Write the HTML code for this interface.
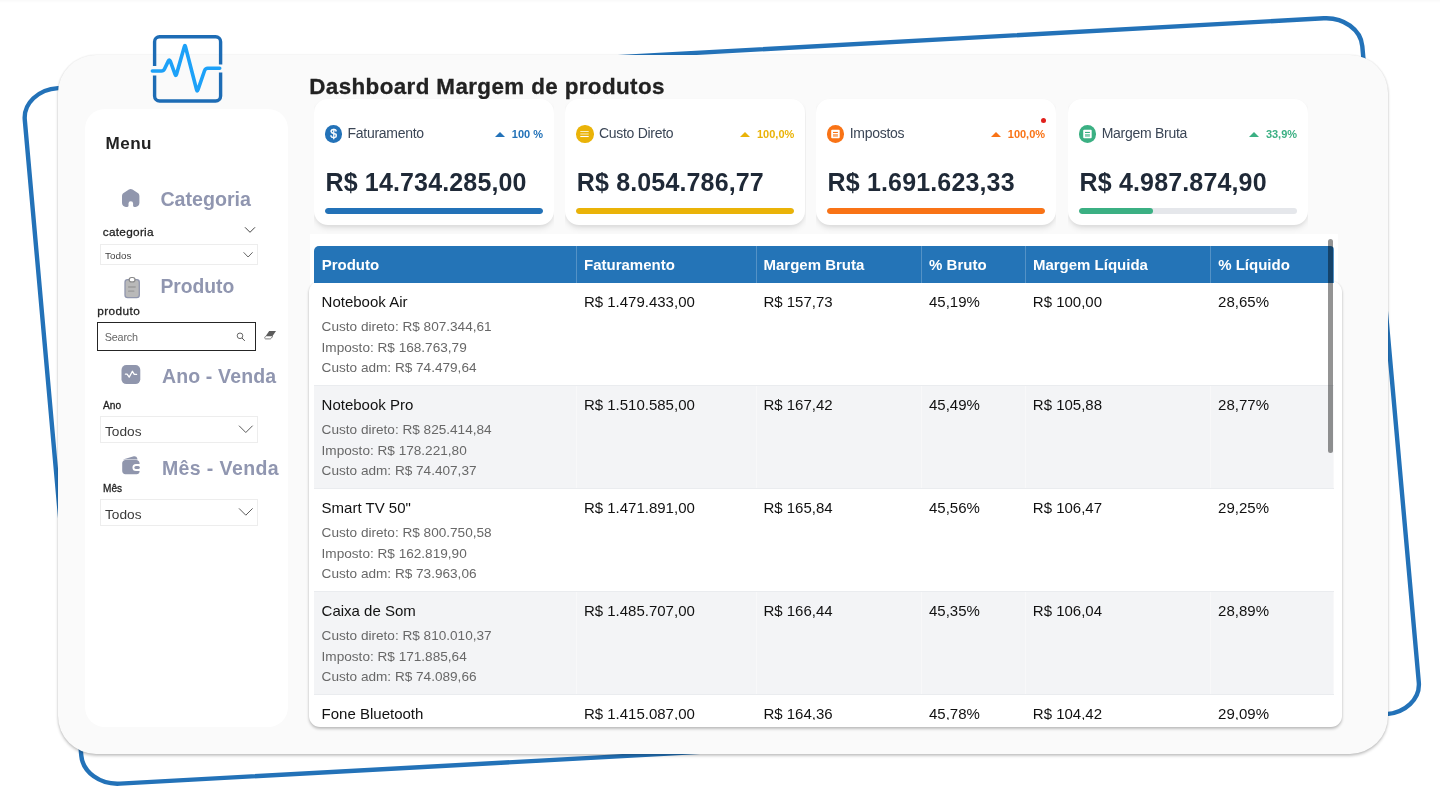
<!DOCTYPE html>
<html lang="pt-BR">
<head>
<meta charset="utf-8">
<title>Dashboard Margem de produtos</title>
<style>
*{box-sizing:border-box;margin:0;padding:0}
html,body{width:1440px;height:802px;overflow:hidden;background:#fff}
body{position:relative;font-family:"Liberation Sans",Arial,sans-serif;color:#111}
.abs{position:absolute}
#topfade{left:0;top:0;width:1440px;height:3px;background:linear-gradient(#f9f9f9,#fff)}
#frame{left:0;top:0;width:1440px;height:802px}
#panel{left:58.2px;top:55px;width:1329.8px;height:698.6px;background:#fafafa;border-radius:38px;box-shadow:0 2px 3px rgba(0,0,0,.22),0 0 2px rgba(0,0,0,.11)}
#logo{left:145px;top:30px;width:85px;height:80px}
#side{left:85px;top:109px;width:203px;height:618px;background:#fff;border-radius:20px}
.t{position:absolute;white-space:nowrap;line-height:1}
.h{font-weight:bold;font-size:19.5px;color:#9096b0}
.lab{font-weight:normal;color:#222;-webkit-text-stroke:.28px #222}
.dd{position:absolute;border:1px solid #ededed;background:#fff}
#title{left:309.3px;top:76.4px;font-size:22.4px;letter-spacing:.39px;font-weight:bold;color:#222;-webkit-text-stroke:.3px #222}
.kpiw{position:absolute;top:89px;width:240.8px;height:144.7px;overflow:hidden}
.kpi{position:absolute;left:.4px;top:10px;width:240px;height:125.5px;background:#fff;border-radius:14px;box-shadow:0 4px 6px -1px rgba(0,0,0,.105),0 2px 4px -1px rgba(0,0,0,.06)}
.kpi .ic{position:absolute;left:10.8px;top:26px;width:17.5px;height:17.5px;border-radius:50%}
.kpi .ic svg{position:absolute;left:0;top:0;width:17.5px;height:17.5px}
.kpi .nm{position:absolute;left:33.6px;top:27px;font-size:14px;letter-spacing:-.28px;color:#3b4656;line-height:1;white-space:nowrap}
.kpi .pc{position:absolute;right:11px;top:30px;font-size:11px;font-weight:bold;line-height:1;white-space:nowrap}
.kpi .tri{position:absolute;top:33px;width:0;height:0;border-left:5.2px solid transparent;border-right:5.2px solid transparent;border-bottom:5.4px solid;margin-right:.4px}
.kpi .val{position:absolute;left:11.5px;top:71px;font-size:25px;font-weight:bold;letter-spacing:.15px;color:#1f2937;line-height:1;white-space:nowrap}
.kpi .trk{position:absolute;left:11px;top:109px;width:218px;height:5.6px;border-radius:3px;background:#e5e7eb;overflow:hidden}
.kpi .trk i{position:absolute;left:0;top:0;height:100%;border-radius:3px}
#tbA{left:310px;top:233.7px;width:1027.6px;height:60px;background:#fff}
#tbB{left:308.8px;top:281px;width:1033.4px;height:446px;background:#fff;border-radius:11px;box-shadow:0 2px 3px rgba(0,0,0,.24),0 0 2px rgba(0,0,0,.08)}
#tbl{left:314px;top:246px;width:1020px;height:473.5px;overflow:hidden;border-radius:5px 4px 0 10px}
#thead{position:absolute;left:0;top:0;width:1020px;height:37px;background:#2474b7}
#thead div{position:absolute;top:0;height:37px;padding:10.8px 0 0 7.7px;font-size:15px;font-weight:bold;color:#fff;line-height:1;border-right:1px solid rgba(255,255,255,.22);white-space:nowrap}
.row{position:absolute;left:0;width:1020px;height:103px;border-bottom:1px solid #eaecef;background:#fff}
.row.alt{background:#f3f4f6}
.row .c{position:absolute;top:0;height:102px;padding:10px 0 0 7.6px;font-size:15px;line-height:17px;border-right:1px solid rgba(255,255,255,.4);white-space:nowrap;color:#111}
.row .sub{margin-top:7.3px;font-size:13.6px;line-height:20.3px;color:#686868}
#sb{left:1328.2px;top:239.3px;width:4.5px;height:214px;border-radius:3px;background:rgba(0,0,0,.42)}
</style>
</head>
<body>
<div id="topfade" class="abs"></div>

<!-- blue tilted outline -->
<svg id="frame" class="abs" viewBox="0 0 1440 802">
  <path d="M58.0 88.1 L1323.8 18.3 C1343.6 17.2 1360.9 29.7 1362.3 46.2 L1418.8 682.4 C1420.2 699.0 1405.3 713.2 1385.5 714.3 L119.9 783.6 C100.1 784.7 82.8 772.2 81.3 755.7 L24.8 120.0 C23.3 103.5 38.2 89.2 58.0 88.1 Z" fill="none" stroke="#2372b8" stroke-width="4.4" stroke-linejoin="round"/>
</svg>

<div id="panel" class="abs"></div>

<!-- logo -->
<svg id="logo" class="abs" viewBox="145 30 85 80">
  <path d="M154.6 66 V41.8 a5 5 0 0 1 5 -5 H215.6 a5 5 0 0 1 5 5 V64.5 M220.6 72.5 V96 a5 5 0 0 1 -5 5 H159.6 a5 5 0 0 1 -5 -5 V75.5" fill="none" stroke="#1d6cb5" stroke-width="3.4"/>
  <path d="M152.4 71.0 L161.4 71.0 Q163.6 71.0 164.5 69.0 L168.3 61.1 Q169.4 58.8 170.3 61.2 L175.1 74.3 Q175.9 76.6 176.5 74.3 L184.4 46.5 Q184.9 44.6 185.4 46.5 L196.6 89.7 Q197.2 92.0 198.0 89.7 L204.6 70.5 Q205.4 68.2 207.8 68.2 L219.7 68.2" fill="none" stroke="#1da1f8" stroke-width="3.6" stroke-linecap="round" stroke-linejoin="round"/>
</svg>

<!-- sidebar -->
<div id="side" class="abs"></div>
<div id="sidecontent">
<div class="t" style="left:105.5px;top:134.9px;font-size:17.1px;letter-spacing:.45px;font-weight:bold;color:#222">Menu</div>

<!-- Categoria -->
<svg class="abs" style="left:120px;top:186px;width:24px;height:24px" viewBox="120 186 24 24">
  <path d="M122 196.2 c0 -1.3 .6 -2.4 1.6 -3.1 l5.3 -3.6 c1.1 -.75 2.5 -.75 3.6 0 l5.3 3.6 c1 .7 1.6 1.8 1.6 3.1 v6.9 c0 2.1 -1.7 3.8 -3.8 3.8 h-1.3 c-.7 0 -1.2 -.5 -1.2 -1.2 v-2.2 a2.3 2.3 0 0 0 -4.6 0 v2.2 c0 .7 -.5 1.2 -1.2 1.2 h-1.5 c-2.1 0 -3.8 -1.7 -3.8 -3.8 z" fill="#9096ad"/>
</svg>
<div class="t h" style="left:160.4px;top:190px;font-size:19.65px">Categoria</div>
<div class="t lab" style="left:102.8px;top:226.6px;font-size:11.8px;letter-spacing:.28px">categoria</div>
<svg class="abs" style="left:243px;top:225px;width:14px;height:10px" viewBox="243 225 14 10"><path d="M245 227.3 l5 5 l5 -5" fill="none" stroke="#444" stroke-width="1"/></svg>
<div class="dd" style="left:100.2px;top:243.6px;width:157.8px;height:21.2px"></div>
<div class="t" style="left:105px;top:250.8px;font-size:9.9px;color:#444">Todos</div>
<svg class="abs" style="left:241px;top:250px;width:14px;height:10px" viewBox="241 250 14 10"><path d="M243.6 252.3 l4.500 4.700 l4.500 -4.700" fill="none" stroke="#555" stroke-width=".9"/></svg>

<!-- Produto -->
<svg class="abs" style="left:120px;top:274px;width:24px;height:28px" viewBox="120 274 24 28">
  <rect x="125" y="279.6" width="14.3" height="18" rx="2.6" fill="#b9b9b9" stroke="#9096ad" stroke-width="1.3"/>
  <rect x="129.2" y="277.5" width="5.8" height="4.4" rx="2.2" fill="#fff" stroke="#8a8a8a" stroke-width="1.2"/>
  <path d="M128.6 287 h6.6 M128.6 291.2 h5.2" stroke="#9a9a9a" stroke-width="1.3" stroke-linecap="round"/>
</svg>
<div class="t h" style="left:160.4px;top:277.3px;font-size:19.3px">Produto</div>
<div class="t lab" style="left:97.3px;top:306.3px;font-size:11.8px;letter-spacing:.4px">produto</div>
<div class="abs" style="left:96.7px;top:322px;width:159.6px;height:29px;border:1.1px solid #252525;background:#fff"></div>
<div class="t" style="left:104.8px;top:332.4px;font-size:10.8px;letter-spacing:-.2px;color:#666">Search</div>
<svg class="abs" style="left:234px;top:330px;width:14px;height:14px" viewBox="234 330 14 14"><circle cx="240" cy="335.8" r="2.8" fill="none" stroke="#555" stroke-width=".9"/><path d="M242 338 l2.8 2.9" stroke="#555" stroke-width="1"/></svg>
<svg class="abs" style="left:263px;top:328px;width:16px;height:14px" viewBox="263 328 16 14"><path d="M269.2 331 h6.8 l-3.6 5.2 h-6.8 z" fill="#5c5c5c"/><path d="M265.6 336.2 l-.7 1.1 c-.5 .8 0 1.6 .9 1.6 h4 c.8 0 1.300 -.3 1.700 -.9 l1.200 -1.800" fill="none" stroke="#5c5c5c" stroke-width=".8"/></svg>

<!-- Ano -->
<svg class="abs" style="left:119px;top:363px;width:24px;height:24px" viewBox="119 363 24 24">
  <rect x="121.5" y="365.1" width="18.8" height="19" rx="4.8" fill="#9096ad"/>
  <path d="M125.4 374.2 h1.700 l2.100 2.900 l3.200 -5.800 l1.900 3.100 h2.300" fill="none" stroke="#fff" stroke-width="1.3" stroke-linecap="round" stroke-linejoin="round"/>
</svg>
<div class="t h" style="left:161.9px;top:367.1px;letter-spacing:.16px">Ano - Venda</div>
<div class="t lab" style="left:103px;top:401.2px;font-size:10.2px">Ano</div>
<div class="dd" style="left:100px;top:416px;width:158px;height:26.6px"></div>
<div class="t" style="left:105px;top:424.9px;font-size:13.7px;color:#3a3a3a">Todos</div>
<svg class="abs" style="left:237px;top:423px;width:18px;height:12px" viewBox="237 423 18 12"><path d="M239 425.700 l6.800 6.800 l6.800 -6.800" fill="none" stroke="#505050" stroke-width=".95"/></svg>

<!-- Mês -->
<svg class="abs" style="left:119px;top:454px;width:24px;height:24px" viewBox="119 454 24 24">
  <path d="M122.900 459.400 l10.900 -3.100 c1.500 -.45 3 .4 3.400 1.900 l.3 1.200 z" fill="#9096ad"/>
  <path d="M122.2 463.200 c0 -1.800 1.400 -3.200 3.200 -3.200 h10.800 c1.900 0 3.400 1.500 3.400 3.400 v.5 h-3.600 a3.550 3.550 0 0 0 0 7.100 h3.600 v.2 c0 1.700 -1.300 3 -3 3 h-11.200 c-1.800 0 -3.200 -1.400 -3.200 -3.200 z" fill="#9096ad"/>
  <rect x="134.4" y="465.900" width="5.4" height="3.100" rx="1.500" fill="#9096ad"/>
</svg>
<div class="t h" style="left:161.900px;top:459.300px;letter-spacing:.4px">Mês - Venda</div>
<div class="t lab" style="left:103px;top:484.100px;font-size:10.1px">Mês</div>
<div class="dd" style="left:100px;top:499.200px;width:158px;height:26.900px"></div>
<div class="t" style="left:105px;top:507.900px;font-size:13.7px;color:#3a3a3a">Todos</div>
<svg class="abs" style="left:237px;top:506px;width:18px;height:12px" viewBox="237 506 18 12"><path d="M239 508.400 l6.800 6.800 l6.800 -6.800" fill="none" stroke="#505050" stroke-width=".95"/></svg>
</div>

<!-- title -->
<div id="title" class="t">Dashboard Margem de produtos</div>

<!-- KPI cards -->
<div id="kpis">
<div class="kpiw" style="left:313.6px"><div class="kpi">
  <div class="ic" style="background:#2372b8"><svg viewBox="0 0 17.5 17.5"><text x="8.75" y="13.1" text-anchor="middle" font-family="Liberation Sans,Arial,sans-serif" font-size="12.2" fill="#fff" stroke="#fff" stroke-width=".35">$</text></svg></div>
  <div class="nm">Faturamento</div>
  <div class="tri" style="right:48.5px;border-bottom-color:#2372b8"></div>
  <div class="pc" style="color:#2372b8">100 %</div>
  <div class="val">R$ 14.734.285,00</div>
  <div class="trk"><i style="width:100%;background:#2372b8"></i></div>
</div></div>
<div class="kpiw" style="left:564.9px"><div class="kpi">
  <div class="ic" style="background:#eab308"><svg viewBox="0 0 17.5 17.5"><path d="M4.300 6.500 h8.400 M4.300 9 h8.400" stroke="#fff" stroke-width="1.100" opacity=".75"/><path d="M4.300 11.500 h8.400" stroke="#fff" stroke-width="1.100"/></svg></div>
  <div class="nm">Custo Direto</div>
  <div class="tri" style="right:54.8px;border-bottom-color:#eab308"></div>
  <div class="pc" style="color:#eab308">100,0%</div>
  <div class="val">R$ 8.054.786,77</div>
  <div class="trk"><i style="width:100%;background:#eab308"></i></div>
</div></div>
<div class="kpiw" style="left:815.7px"><div class="kpi">
  <div class="ic" style="background:#f97316"><svg viewBox="0 0 17.5 17.5"><rect x="4.200" y="4.800" width="8.500" height="8.400" rx=".9" fill="#fff"/><rect x="6" y="6.900" width="4.900" height="1.100" fill="#f97316"/><rect x="6" y="9" width="4.900" height="2.800" fill="#f97316" opacity=".6"/></svg></div>
  <div class="nm">Impostos</div>
  <div class="tri" style="right:54.8px;border-bottom-color:#f97316"></div>
  <div class="pc" style="color:#f97316">100,0%</div>
  <div style="position:absolute;left:224.700px;top:18.600px;width:5px;height:5px;border-radius:50%;background:#e0201c"></div>
  <div class="val">R$ 1.691.623,33</div>
  <div class="trk"><i style="width:100%;background:#f97316"></i></div>
</div></div>
<div class="kpiw" style="left:1067.7px"><div class="kpi">
  <div class="ic" style="background:#3bb083"><svg viewBox="0 0 17.5 17.5"><rect x="4.200" y="4.800" width="8.500" height="8.400" rx=".9" fill="#fff"/><rect x="6" y="6.900" width="4.900" height="1.100" fill="#3bb083"/><rect x="6" y="9" width="4.900" height="2.800" fill="#3bb083" opacity=".6"/></svg></div>
  <div class="nm">Margem Bruta</div>
  <div class="tri" style="right:49px;border-bottom-color:#3bb083"></div>
  <div class="pc" style="color:#3bb083">33,9%</div>
  <div class="val">R$ 4.987.874,90</div>
  <div class="trk"><i style="width:34%;background:#3bb083"></i></div>
</div></div>
</div>

<!-- table -->
<div id="tbA" class="abs"></div>
<div id="tbB" class="abs"></div>
<div id="tbl" class="abs">
<div id="thead">
  <div style="left:0px;width:263.1px">Produto</div>
  <div style="left:263.1px;width:179.5px;padding-left:6.9px">Faturamento</div>
  <div style="left:442.6px;width:165.6px;padding-left:6.9px">Margem Bruta</div>
  <div style="left:608.2px;width:103.8px;padding-left:6.9px">% Bruto</div>
  <div style="left:712.0px;width:185.3px;padding-left:6.9px">Margem Líquida</div>
  <div style="left:897.3px;width:122.7px;padding-left:6.9px">% Líquido</div>
</div>
<div class="row" style="top:37px">
  <div class="c" style="left:0;width:263.1px">Notebook Air<div class="sub">Custo direto: R$ 807.344,61<br>Imposto: R$ 168.763,79<br>Custo adm: R$ 74.479,64</div></div>
  <div class="c" style="left:263.1px;width:179.5px;padding-left:6.8px">R$ 1.479.433,00</div>
  <div class="c" style="left:442.6px;width:165.6px;padding-left:6.8px">R$ 157,73</div>
  <div class="c" style="left:608.2px;width:103.8px;padding-left:6.8px">45,19%</div>
  <div class="c" style="left:712.0px;width:185.3px;padding-left:6.8px">R$ 100,00</div>
  <div class="c" style="left:897.3px;width:122.7px;padding-left:6.8px">28,65%</div>
</div>
<div class="row alt" style="top:140px">
  <div class="c" style="left:0;width:263.1px">Notebook Pro<div class="sub">Custo direto: R$ 825.414,84<br>Imposto: R$ 178.221,80<br>Custo adm: R$ 74.407,37</div></div>
  <div class="c" style="left:263.1px;width:179.5px;padding-left:6.8px">R$ 1.510.585,00</div>
  <div class="c" style="left:442.6px;width:165.6px;padding-left:6.8px">R$ 167,42</div>
  <div class="c" style="left:608.2px;width:103.8px;padding-left:6.8px">45,49%</div>
  <div class="c" style="left:712.0px;width:185.3px;padding-left:6.8px">R$ 105,88</div>
  <div class="c" style="left:897.3px;width:122.7px;padding-left:6.8px">28,77%</div>
</div>
<div class="row" style="top:243px">
  <div class="c" style="left:0;width:263.1px">Smart TV 50"<div class="sub">Custo direto: R$ 800.750,58<br>Imposto: R$ 162.819,90<br>Custo adm: R$ 73.963,06</div></div>
  <div class="c" style="left:263.1px;width:179.5px;padding-left:6.8px">R$ 1.471.891,00</div>
  <div class="c" style="left:442.6px;width:165.6px;padding-left:6.8px">R$ 165,84</div>
  <div class="c" style="left:608.2px;width:103.8px;padding-left:6.8px">45,56%</div>
  <div class="c" style="left:712.0px;width:185.3px;padding-left:6.8px">R$ 106,47</div>
  <div class="c" style="left:897.3px;width:122.7px;padding-left:6.8px">29,25%</div>
</div>
<div class="row alt" style="top:346px">
  <div class="c" style="left:0;width:263.1px">Caixa de Som<div class="sub">Custo direto: R$ 810.010,37<br>Imposto: R$ 171.885,64<br>Custo adm: R$ 74.089,66</div></div>
  <div class="c" style="left:263.1px;width:179.5px;padding-left:6.8px">R$ 1.485.707,00</div>
  <div class="c" style="left:442.6px;width:165.6px;padding-left:6.8px">R$ 166,44</div>
  <div class="c" style="left:608.2px;width:103.8px;padding-left:6.8px">45,35%</div>
  <div class="c" style="left:712.0px;width:185.3px;padding-left:6.8px">R$ 106,04</div>
  <div class="c" style="left:897.3px;width:122.7px;padding-left:6.8px">28,89%</div>
</div>
<div class="row" style="top:449px">
  <div class="c" style="left:0;width:263.1px">Fone Bluetooth<div class="sub">Custo direto: R$ 778.297,85<br>Imposto: R$ 163.442,55<br>Custo adm: R$ 70.754,35</div></div>
  <div class="c" style="left:263.1px;width:179.5px;padding-left:6.8px">R$ 1.415.087,00</div>
  <div class="c" style="left:442.6px;width:165.6px;padding-left:6.8px">R$ 164,36</div>
  <div class="c" style="left:608.2px;width:103.8px;padding-left:6.8px">45,78%</div>
  <div class="c" style="left:712.0px;width:185.3px;padding-left:6.8px">R$ 104,42</div>
  <div class="c" style="left:897.3px;width:122.7px;padding-left:6.8px">29,09%</div>
</div>
</div>
<div id="sb" class="abs"></div>
</body>
</html>
